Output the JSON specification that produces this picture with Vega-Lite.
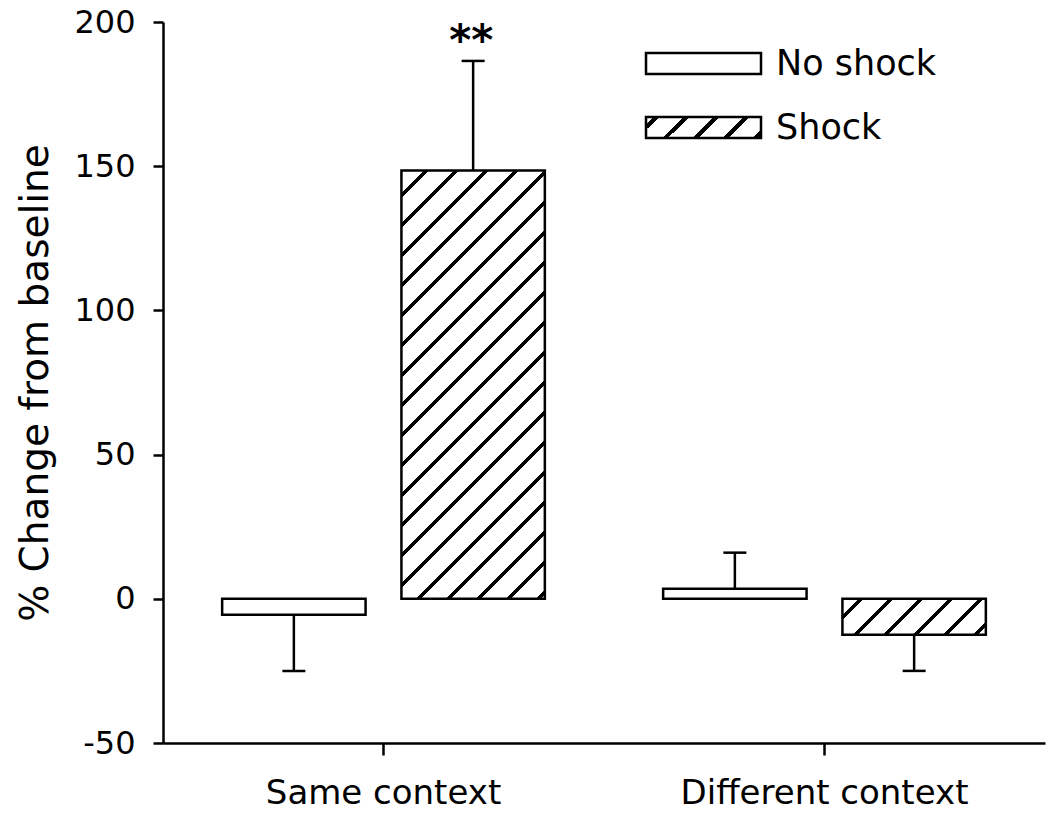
{
  "$schema": "https://vega.github.io/schema/vega-lite/v6.json",
  "width": 882,
  "height": 721,
  "autosize": {"type": "none"},
  "padding": {"left": 163, "top": 22, "right": 5, "bottom": 77},
  "background": "white",
  "config": {"view": {"stroke": null}},
  "data": {"values": [
    {"context": "Same context", "group": "No shock", "mean": -5.5, "err_end": -25, "sig": ""},
    {"context": "Same context", "group": "Shock", "mean": 148.5, "err_end": 186.5, "sig": "**"},
    {"context": "Different context", "group": "No shock", "mean": 3.5, "err_end": 16, "sig": ""},
    {"context": "Different context", "group": "Shock", "mean": -12.5, "err_end": -25, "sig": ""}
  ]},
  "encoding": {
    "x": {"field": "context", "type": "nominal", "sort": ["Same context", "Different context"],
      "scale": {"paddingInner": 0, "paddingOuter": 0},
      "axis": {"title": null, "labelAngle": 0, "labelLimit": 500, "domainColor": "black", "domainWidth": 2.5, "tickColor": "black", "tickWidth": 2.5, "tickSize": 12, "labelFont": "DejaVu Sans", "labelFontSize": 34, "labelColor": "black", "labelPadding": 21}},
    "xOffset": {"field": "group", "type": "nominal", "sort": ["No shock", "Shock"], "scale": {"paddingInner": 0.2, "paddingOuter": 0.33}}
  },
  "layer": [
    {
      "transform": [{"filter": "datum.group === 'No shock'"}],
      "mark": {"type": "bar", "fill": "white", "stroke": "black", "strokeWidth": 2.5},
      "encoding": {
        "y": {"field": "mean", "type": "quantitative", "scale": {"domain": [-50, 200], "nice": false, "zero": false},
          "axis": {"values": [-50, 0, 50, 100, 150, 200], "labelExpr": "'' + datum.value", "grid": false, "domainColor": "black", "domainWidth": 2.5, "tickColor": "black", "tickWidth": 2.5, "tickSize": 10, "labelFont": "DejaVu Sans", "labelFontSize": 32, "labelColor": "black", "labelPadding": 18, "title": "% Change from baseline", "titleFont": "DejaVu Sans", "titleFontSize": 39, "titleFontWeight": "normal", "titleColor": "black", "titlePadding": 18}},
        "y2": {"datum": 0}
      }
    },
    {
      "transform": [{"filter": "datum.group === 'Shock' && datum.context === 'Same context'"}],
      "mark": {"type": "bar", "stroke": "black", "strokeWidth": 2.5,
        "fill": {"gradient": "linear", "x1": 0, "y1": 0, "x2": 0.4019, "y2": 1.2003, "stops": [
          {"offset": 0, "color": "white"},
          {"offset": 0.0402, "color": "white"}, {"offset": 0.0402, "color": "black"}, {"offset": 0.0489, "color": "black"}, {"offset": 0.0489, "color": "white"},
          {"offset": 0.0927, "color": "white"}, {"offset": 0.0927, "color": "black"}, {"offset": 0.1014, "color": "black"}, {"offset": 0.1014, "color": "white"},
          {"offset": 0.1452, "color": "white"}, {"offset": 0.1452, "color": "black"}, {"offset": 0.1539, "color": "black"}, {"offset": 0.1539, "color": "white"},
          {"offset": 0.1977, "color": "white"}, {"offset": 0.1977, "color": "black"}, {"offset": 0.2064, "color": "black"}, {"offset": 0.2064, "color": "white"},
          {"offset": 0.2501, "color": "white"}, {"offset": 0.2501, "color": "black"}, {"offset": 0.2588, "color": "black"}, {"offset": 0.2588, "color": "white"},
          {"offset": 0.3026, "color": "white"}, {"offset": 0.3026, "color": "black"}, {"offset": 0.3113, "color": "black"}, {"offset": 0.3113, "color": "white"},
          {"offset": 0.3551, "color": "white"}, {"offset": 0.3551, "color": "black"}, {"offset": 0.3638, "color": "black"}, {"offset": 0.3638, "color": "white"},
          {"offset": 0.4076, "color": "white"}, {"offset": 0.4076, "color": "black"}, {"offset": 0.4163, "color": "black"}, {"offset": 0.4163, "color": "white"},
          {"offset": 0.4600, "color": "white"}, {"offset": 0.4600, "color": "black"}, {"offset": 0.4687, "color": "black"}, {"offset": 0.4687, "color": "white"},
          {"offset": 0.5125, "color": "white"}, {"offset": 0.5125, "color": "black"}, {"offset": 0.5212, "color": "black"}, {"offset": 0.5212, "color": "white"},
          {"offset": 0.5650, "color": "white"}, {"offset": 0.5650, "color": "black"}, {"offset": 0.5737, "color": "black"}, {"offset": 0.5737, "color": "white"},
          {"offset": 0.6175, "color": "white"}, {"offset": 0.6175, "color": "black"}, {"offset": 0.6262, "color": "black"}, {"offset": 0.6262, "color": "white"},
          {"offset": 0.6699, "color": "white"}, {"offset": 0.6699, "color": "black"}, {"offset": 0.6786, "color": "black"}, {"offset": 0.6786, "color": "white"},
          {"offset": 0.7224, "color": "white"}, {"offset": 0.7224, "color": "black"}, {"offset": 0.7311, "color": "black"}, {"offset": 0.7311, "color": "white"},
          {"offset": 0.7749, "color": "white"}, {"offset": 0.7749, "color": "black"}, {"offset": 0.7836, "color": "black"}, {"offset": 0.7836, "color": "white"},
          {"offset": 0.8274, "color": "white"}, {"offset": 0.8274, "color": "black"}, {"offset": 0.8361, "color": "black"}, {"offset": 0.8361, "color": "white"},
          {"offset": 0.8798, "color": "white"}, {"offset": 0.8798, "color": "black"}, {"offset": 0.8885, "color": "black"}, {"offset": 0.8885, "color": "white"},
          {"offset": 0.9323, "color": "white"}, {"offset": 0.9323, "color": "black"}, {"offset": 0.9410, "color": "black"}, {"offset": 0.9410, "color": "white"},
          {"offset": 0.9848, "color": "white"}, {"offset": 0.9848, "color": "black"}, {"offset": 0.9935, "color": "black"}, {"offset": 0.9935, "color": "white"},
          {"offset": 1, "color": "white"}
        ]}},
      "encoding": {
        "y": {"field": "mean", "type": "quantitative"},
        "y2": {"datum": 0}
      }
    },
    {
      "transform": [{"filter": "datum.group === 'Shock' && datum.context === 'Different context'"}],
      "mark": {"type": "bar", "stroke": "black", "strokeWidth": 2.5,
        "fill": {"gradient": "linear", "x1": 0, "y1": 0, "x2": 1.177, "y2": 0.2959, "stops": [
          {"offset": 0, "color": "white"},
          {"offset": 0.0892, "color": "white"}, {"offset": 0.0892, "color": "black"}, {"offset": 0.1171, "color": "black"}, {"offset": 0.1171, "color": "white"},
          {"offset": 0.2563, "color": "white"}, {"offset": 0.2563, "color": "black"}, {"offset": 0.2842, "color": "black"}, {"offset": 0.2842, "color": "white"},
          {"offset": 0.4235, "color": "white"}, {"offset": 0.4235, "color": "black"}, {"offset": 0.4514, "color": "black"}, {"offset": 0.4514, "color": "white"},
          {"offset": 0.5907, "color": "white"}, {"offset": 0.5907, "color": "black"}, {"offset": 0.6186, "color": "black"}, {"offset": 0.6186, "color": "white"},
          {"offset": 0.7579, "color": "white"}, {"offset": 0.7579, "color": "black"}, {"offset": 0.7858, "color": "black"}, {"offset": 0.7858, "color": "white"},
          {"offset": 0.9250, "color": "white"}, {"offset": 0.9250, "color": "black"}, {"offset": 0.9529, "color": "black"}, {"offset": 0.9529, "color": "white"},
          {"offset": 1, "color": "white"}
        ]}},
      "encoding": {
        "y": {"field": "mean", "type": "quantitative"},
        "y2": {"datum": 0}
      }
    },
    {
      "mark": {"type": "rule", "color": "black", "strokeWidth": 2.5},
      "encoding": {"y": {"datum": 0}}
    },
    {
      "mark": {"type": "rule", "strokeWidth": 2.5},
      "encoding": {
        "y": {"field": "mean", "type": "quantitative"},
        "y2": {"field": "err_end"},
        "color": {"field": "group", "type": "nominal", "sort": ["No shock", "Shock"],
          "scale": {"domain": ["No shock", "Shock"], "range": ["black", "black"]},
          "legend": {
            "orient": "none", "legendX": 514, "legendY": 15, "title": null, "padding": 0,
            "symbolType": "M-2.3,-0.42L2.3,-0.42L2.3,0.42L-2.3,0.42Z", "symbolSize": 2500,
            "symbolStrokeColor": "black", "symbolStrokeWidth": 2.5, "symbolFillColor": "white",
            "labelFont": "DejaVu Sans", "labelFontSize": 35, "labelColor": "black", "labelOffset": 46, "rowPadding": 19, "labelLimit": 400,
            "encode": {"symbols": {"update": {
              "stroke": {"value": "black"},
              "strokeWidth": {"value": 2.5},
              "opacity": {"value": 1},
              "fill": [
                {"test": "datum.value === 'Shock'", "value": {"gradient": "linear", "x1": 0, "y1": 0, "x2": 1.1444, "y2": 0.209, "stops": [
                  {"offset": 0, "color": "white"},
                  {"offset": 0.0588, "color": "white"}, {"offset": 0.0588, "color": "black"}, {"offset": 0.0956, "color": "black"}, {"offset": 0.0956, "color": "white"},
                  {"offset": 0.2794, "color": "white"}, {"offset": 0.2794, "color": "black"}, {"offset": 0.3162, "color": "black"}, {"offset": 0.3162, "color": "white"},
                  {"offset": 0.5, "color": "white"}, {"offset": 0.5, "color": "black"}, {"offset": 0.5368, "color": "black"}, {"offset": 0.5368, "color": "white"},
                  {"offset": 0.7206, "color": "white"}, {"offset": 0.7206, "color": "black"}, {"offset": 0.7574, "color": "black"}, {"offset": 0.7574, "color": "white"},
                  {"offset": 0.9412, "color": "white"}, {"offset": 0.9412, "color": "black"}, {"offset": 0.978, "color": "black"}, {"offset": 0.978, "color": "white"},
                  {"offset": 1, "color": "white"}
                ]}},
                {"value": "white"}
              ]
            }}}
          }}
      }
    },
    {
      "mark": {"type": "tick", "orient": "horizontal", "color": "black", "size": 23, "thickness": 2.5, "opacity": 1},
      "encoding": {
        "y": {"field": "err_end", "type": "quantitative"}
      }
    },
    {
      "transform": [{"filter": "datum.sig !== ''"}],
      "mark": {"type": "text", "font": "DejaVu Sans", "fontWeight": "bold", "fontSize": 42, "color": "black", "baseline": "alphabetic", "dy": -6, "dx": -2},
      "encoding": {
        "y": {"field": "err_end", "type": "quantitative"},
        "text": {"field": "sig"}
      }
    }
  ]
}
